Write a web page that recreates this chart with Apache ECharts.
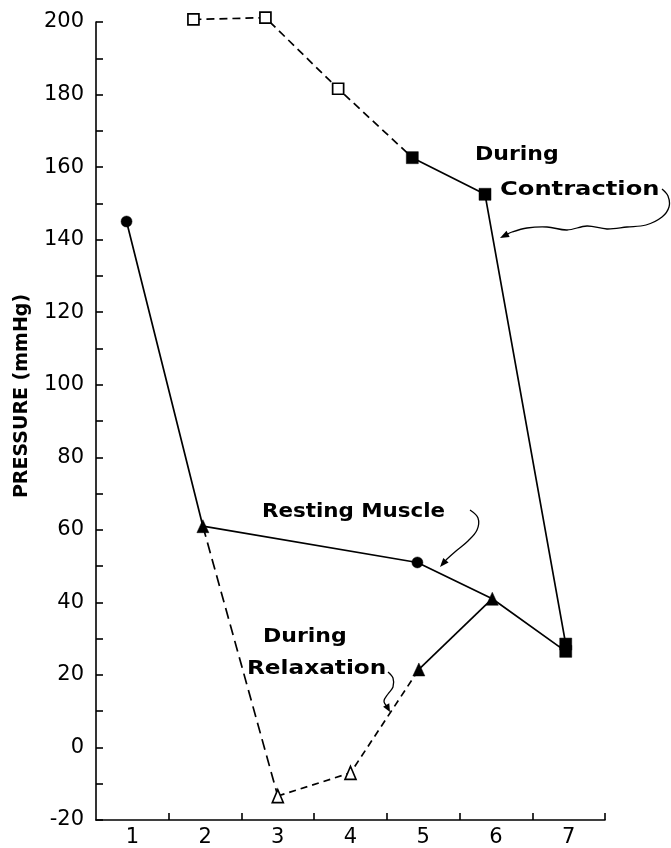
<!DOCTYPE html>
<html><head><meta charset="utf-8">
<script src="https://cdn.jsdelivr.net/npm/echarts@6/dist/echarts.min.js"></script>
<style>html,body{margin:0;padding:0;background:#fff}#c{width:671px;height:848px}</style>
</head><body><div id="c"></div>
<script>
// ---- data ----
const xTickLabels = [1, 2, 3, 4, 5, 6, 7];
const yTickLabels = [-20, 0, 20, 40, 60, 80, 100, 120, 140, 160, 180, 200];
// Resting muscle (solid line)
const restX = [0.92, 1.97, 4.92, 5.95, 6.96];
const restY = [145, 61, 51, 41, 26.5];
// During relaxation (dashed then solid)
const relaxX = [1.97, 3.0, 4.0, 4.94, 5.95];
const relaxY = [61, -13.4, -7, 21.5, 41];
// During contraction (dashed then solid)
const contrX = [1.84, 2.83, 3.83, 4.85, 5.85, 6.96];
const contrY = [200.7, 201.2, 181.6, 162.6, 152.5, 28.5];

// ---- build ----
const pts = (xs, ys, idx) => idx.map(i => [xs[i], ys[i]]);
const yTicks = [];
for (let v = -20; v <= 200; v += 10) yTicks.push(v);
const xTicks = xTickLabels.map(v => v + 0.5);

const BLACK = '#000';
function lineSeries(data, dash) {
  return { type: 'line', data, showSymbol: false, symbol: 'none', clip: false, z: 2,
    lineStyle: { color: BLACK, width: 1.7, type: dash || 'solid' }, silent: true, animation: false };
}
function markSeries(data, symbol, size, hollow) {
  return { type: 'scatter', data, symbol, symbolSize: size, z: 5, clip: false, silent: true, animation: false,
    itemStyle: hollow ? { color: '#fff', borderColor: BLACK, borderWidth: 1.7, opacity: 1 } : { color: BLACK, borderColor: BLACK, borderWidth: 0.5, opacity: 1 } };
}

const series = [
  lineSeries(pts(restX, restY, [0, 1, 2, 3, 4])),
  lineSeries(pts(relaxX, relaxY, [0, 1]), [11, 6]),
  lineSeries(pts(relaxX, relaxY, [1, 2, 3]), [7, 5]),
  lineSeries(pts(relaxX, relaxY, [3, 4])),
  lineSeries(pts(contrX, contrY, [0, 1, 2, 3]), [8, 5]),
  lineSeries(pts(contrX, contrY, [3, 4, 5])),
  markSeries(pts(restX, restY, [0, 2]), 'circle', 11, false),
  markSeries(pts(restX, restY, [1, 3]).concat(pts(relaxX, relaxY, [3])), 'triangle', [12, 13], false),
  markSeries(pts(relaxX, relaxY, [1, 2]), 'triangle', [11, 13], true),
  markSeries(pts(contrX, contrY, [0, 1, 2]), 'rect', 11, true),
  markSeries(pts(contrX, contrY, [3, 4, 5]).concat(pts(restX, restY, [4])), 'rect', 12, false)
];

const chart = echarts.init(document.getElementById('c'), null, { renderer: 'canvas' });

function arrow(points, headLen, headW) {
  const n = points.length, T = points[n - 1], P = points[n - 2];
  let dx = T[0] - P[0], dy = T[1] - P[1];
  const L = Math.hypot(dx, dy); dx /= L; dy /= L;
  const bx = T[0] - dx * headLen, by = T[1] - dy * headLen;
  const nx = -dy, ny = dx;
  return [
    { type: 'polyline', shape: { points: points.slice(0, n - 1).concat([[bx + dx * 2, by + dy * 2]]), smooth: 0.35 },
      style: { stroke: BLACK, lineWidth: 1.3, fill: null }, z: 10 },
    { type: 'polygon', shape: { points: [T, [bx + nx * headW, by + ny * headW], [bx - nx * headW, by - ny * headW]] },
      style: { fill: BLACK }, z: 10 }
  ];
}
function label(text, x, y, sx) {
  return { type: 'text', x, y, scaleX: sx, z: 10,
    style: { text, font: 'bold 20px "DejaVu Sans"', fill: BLACK, textAlign: 'left', textVerticalAlign: 'middle', verticalAlign: 'middle' } };
}

const graphic = [
  { type: 'text', x: 22, y: 396, rotation: Math.PI / 2, z: 10,
    style: { text: 'PRESSURE (mmHg)', font: 'bold 19px "DejaVu Sans"', fill: BLACK, textAlign: 'center', textVerticalAlign: 'middle', verticalAlign: 'middle' } },
  label('During', 475, 155, 1.1),
  label('Contraction', 500, 190, 1.21),
  label('Resting Muscle', 262, 512, 1.07),
  label('During', 263, 637, 1.1),
  label('Relaxation', 247, 669, 1.16)
]
  .concat(arrow([[662, 189], [668, 196], [669, 207], [662, 217], [646, 225], [627, 227], [607, 229], [587, 226], [567, 230], [547, 227], [527, 228], [512, 232], [500, 238]], 9, 3.5))
  .concat(arrow([[470, 510], [478, 518], [477, 530], [468, 541], [456, 551], [447, 559], [440, 567]], 9, 3.5))
  .concat(arrow([[388, 672], [393, 678], [393, 687], [388, 694], [384, 701], [390, 712]], 8, 3.5));

chart.setOption({
  animation: false,
  backgroundColor: '#fff',
  grid: { left: 96, right: 66, top: 22, bottom: 26, containLabel: false },
  xAxis: {
    type: 'value', min: 0.5, max: 7.5,
    axisLine: { show: true, onZero: false, lineStyle: { color: BLACK, width: 1.6 } },
    axisTick: { show: true, inside: true, length: 7, customValues: xTicks, lineStyle: { color: BLACK, width: 1.6 } },
    axisLabel: { customValues: xTickLabels, color: BLACK, fontSize: 21, fontFamily: 'DejaVu Sans', margin: 7 },
    splitLine: { show: false }
  },
  yAxis: {
    type: 'value', min: -20, max: 200, interval: 20,
    axisLine: { show: true, onZero: false, lineStyle: { color: BLACK, width: 1.6 } },
    axisTick: { show: true, inside: true, length: 7, customValues: yTicks, lineStyle: { color: BLACK, width: 1.6 } },
    axisLabel: { customValues: yTickLabels, color: BLACK, fontSize: 21, fontFamily: 'DejaVu Sans', margin: 12 },
    splitLine: { show: false }
  },
  series,
  graphic
});
</script></body></html>
